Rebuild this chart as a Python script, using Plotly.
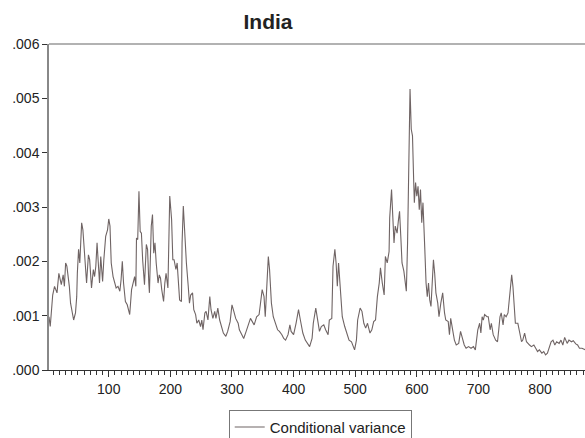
import plotly.graph_objects as go

period = [3, 5, 9, 12, 16, 19, 23, 26, 28, 30, 32, 36, 38, 41, 43, 46, 48, 49, 51, 53,
          56, 58, 61, 64, 67, 69, 72, 75, 77, 79, 81, 83, 85, 87, 90, 92, 95, 98, 100, 102,
          104, 107, 110, 112, 115, 118, 120, 122, 124, 127, 130, 134, 137, 139, 142, 144, 145, 147, 149, 151,
          153, 155, 158, 161, 163, 165, 166, 169, 171, 173, 175, 177, 180, 182, 184, 186, 189, 191, 193, 196,
          198, 199, 202, 204, 206, 209, 211, 213, 215, 218, 219, 221, 223, 226, 229, 231, 233, 236, 238, 241,
          243, 246, 249, 251, 253, 256, 258, 261, 264, 266, 269, 272, 274, 277, 280, 283, 286, 290, 293, 297,
          300, 303, 306, 310, 312, 316, 319, 323, 326, 330, 333, 336, 340, 344, 346, 349, 352, 354, 356, 359,
          361, 364, 367, 370, 374, 377, 381, 384, 387, 391, 394, 396, 400, 404, 408, 411, 415, 419, 422, 426,
          430, 432, 436, 439, 442, 445, 449, 452, 456, 458, 462, 464, 467, 469, 471, 473, 476, 479, 483, 486,
          490, 494, 496, 499, 502, 504, 508, 511, 514, 517, 520, 524, 527, 530, 533, 536, 539, 541, 544, 547,
          549, 552, 555, 556, 559, 561, 563, 565, 568, 570, 572, 574, 576, 579, 581, 583, 585, 587, 589, 591,
          593, 595, 596, 598, 600, 602, 604, 606, 608, 610, 611, 613, 615, 617, 619, 621, 623, 625, 627, 629,
          631, 634, 636, 639, 642, 645, 647, 651, 653, 655, 658, 661, 664, 668, 671, 674, 677, 680, 684, 688,
          692, 695, 697, 699, 702, 704, 706, 708, 710, 714, 716, 719, 721, 724, 728, 731, 733, 735, 737, 740,
          742, 745, 748, 751, 754, 756, 758, 760, 764, 767, 770, 772, 775, 778, 780, 783, 786, 790, 793, 796,
          799, 803, 806, 809, 812, 815, 818, 821, 824, 827, 831, 834, 837, 840, 844, 847, 851, 854, 858, 861,
          864, 868, 871, 874]

# Conditional variance, in thousandths
cond_var_e3 = [0.98, 0.80, 1.38, 1.54, 1.42, 1.78, 1.57, 1.75, 1.54, 1.97, 1.91, 1.54, 1.23, 1.08, 0.92, 1.05, 1.35, 1.78, 2.22, 1.97,
               2.71, 2.58, 1.97, 1.60, 2.12, 2.03, 1.51, 1.85, 1.72, 1.91, 2.34, 1.91, 1.60, 2.09, 1.63, 2.03, 2.46, 2.58, 2.78, 2.65,
               1.97, 1.72, 1.60, 1.51, 1.54, 1.45, 1.66, 2.00, 1.60, 1.26, 1.20, 1.02, 1.48, 1.60, 1.72, 1.54, 2.43, 2.40, 3.29, 2.55,
               2.52, 2.03, 1.57, 2.31, 2.22, 1.60, 1.42, 2.65, 2.86, 2.15, 2.34, 1.97, 1.60, 1.75, 1.69, 1.48, 1.26, 1.60, 1.78, 1.51,
               2.71, 3.20, 2.77, 2.03, 2.03, 1.85, 1.97, 1.66, 1.29, 1.26, 2.34, 3.02, 2.58, 1.97, 1.54, 1.23, 1.38, 1.42, 1.11, 1.02,
               0.86, 0.92, 0.80, 0.92, 0.74, 1.05, 1.08, 0.92, 1.35, 1.11, 0.95, 1.08, 0.95, 1.14, 0.92, 0.80, 0.68, 0.62, 0.71, 0.89,
               1.20, 1.08, 0.95, 0.86, 0.74, 0.65, 0.58, 0.71, 0.80, 0.95, 0.89, 0.83, 0.98, 1.02, 1.20, 1.48, 1.35, 0.98, 1.42, 2.09,
               1.85, 1.23, 0.98, 0.86, 0.74, 0.71, 0.65, 0.58, 0.55, 0.65, 0.83, 0.71, 0.65, 0.86, 1.11, 0.92, 0.68, 0.55, 0.49, 0.43,
               0.58, 0.86, 1.14, 0.92, 0.71, 0.80, 0.83, 0.74, 0.65, 0.92, 0.95, 1.91, 2.22, 1.97, 1.54, 1.97, 1.42, 0.98, 0.80, 0.68,
               0.55, 0.52, 0.46, 0.37, 0.55, 0.92, 1.14, 1.08, 0.86, 0.77, 0.86, 0.68, 0.74, 0.89, 0.92, 1.35, 1.60, 1.88, 1.60, 1.38,
               2.09, 1.97, 2.18, 2.80, 3.32, 2.83, 2.34, 2.65, 2.52, 2.74, 2.92, 2.46, 1.97, 1.82, 1.60, 1.45, 2.34, 3.94, 5.17, 4.43,
               4.31, 3.45, 3.08, 3.45, 3.20, 3.38, 2.95, 3.32, 2.71, 3.08, 2.65, 2.22, 1.60, 1.35, 1.60, 1.29, 1.17, 1.60, 2.03, 1.78,
               1.42, 1.23, 0.98, 1.23, 1.42, 1.05, 0.92, 0.89, 0.65, 0.95, 0.74, 0.55, 0.46, 0.49, 0.71, 0.58, 0.46, 0.40, 0.43, 0.40,
               0.43, 0.37, 0.62, 0.74, 0.86, 0.68, 0.98, 0.92, 1.02, 0.98, 0.98, 0.74, 0.86, 0.65, 0.55, 0.52, 0.74, 0.98, 1.05, 0.83,
               1.02, 0.98, 1.05, 1.42, 1.75, 1.54, 1.17, 0.86, 0.86, 0.68, 0.52, 0.55, 0.68, 0.52, 0.49, 0.46, 0.43, 0.46, 0.40, 0.34,
               0.37, 0.31, 0.34, 0.28, 0.31, 0.40, 0.52, 0.55, 0.46, 0.52, 0.49, 0.55, 0.46, 0.60, 0.49, 0.55, 0.52, 0.54, 0.48, 0.46,
               0.40, 0.40, 0.38, 0.37]

cond_var = [v / 1000.0 for v in cond_var_e3]

y_tick_vals = [0.000, 0.001, 0.002, 0.003, 0.004, 0.005, 0.006]
y_tick_text = [".000", ".001", ".002", ".003", ".004", ".005", ".006"]
x_tick_vals = [100, 200, 300, 400, 500, 600, 700, 800]

FONT = "Liberation Sans, Arial, sans-serif"

W, H = 585, 438

fig = go.Figure()
fig.add_trace(go.Scatter(
    x=period, y=cond_var, mode="lines",
    name="Conditional variance",
    line=dict(color="#6f6464", width=1.1),
))

fig.update_layout(
    width=W, height=H,
    margin=dict(l=49, r=0, t=44, b=68, autoexpand=False),
    paper_bgcolor="white", plot_bgcolor="white",
    font=dict(family=FONT, size=14, color="#222222"),
    title=dict(text="<b>India</b>", x=268 / W, xanchor="center", xref="container",
               y=1 - 22 / H, yanchor="middle", yref="container",
               font=dict(family=FONT, size=21, color="#222222")),
    showlegend=True,
    legend=dict(x=0.506, xanchor="center", y=-0.122, yanchor="top",
                orientation="h", bordercolor="#777777", borderwidth=1,
                font=dict(family=FONT, size=15, color="#222222"),
                itemwidth=30, tracegroupgap=0),
    xaxis=dict(range=[3, 873], tickvals=x_tick_vals, ticks="outside", ticklen=6,
               tickcolor="#333333", showline=True, linecolor="#333333", linewidth=1,
               showgrid=False, zeroline=False, automargin=False,
               minor=dict(dtick=10, tick0=0, ticks="outside", ticklen=4, tickcolor="#333333"),
               tickfont=dict(family=FONT, size=14, color="#222222")),
    yaxis=dict(range=[0, 0.006], tickvals=y_tick_vals, ticktext=y_tick_text,
               ticks="outside", ticklen=5, tickcolor="#333333",
               showline=True, linecolor="#888888", linewidth=1.5,
               showgrid=False, zeroline=False, automargin=False,
               tickfont=dict(family=FONT, size=14, color="#222222")),
    shapes=[dict(type="line", xref="paper", yref="paper", x0=0, x1=1, y0=1, y1=1,
                 line=dict(color="#999999", width=1.5))],
)

fig.write_html(
    "out.html",
    config={"displayModeBar": False},
    post_script=("document.body.style.margin='0';"
                 "document.body.style.overflow='hidden';"
                 "document.documentElement.style.overflow='hidden';"),
)
